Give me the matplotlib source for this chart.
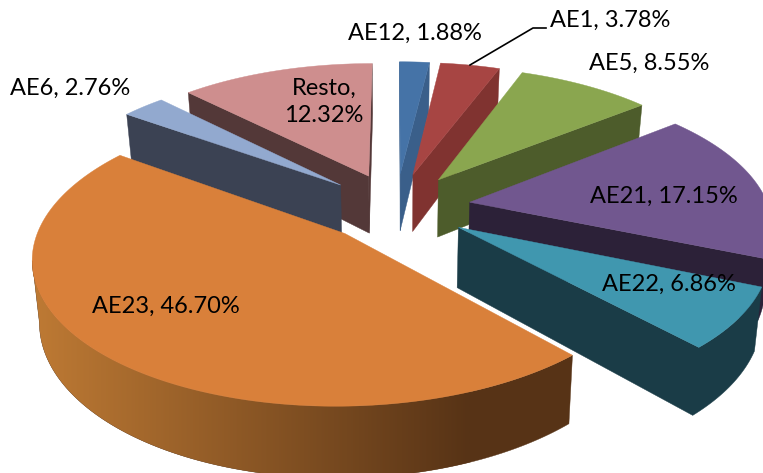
# -*- coding: utf-8 -*-
"""Camembert 3D eclate, dessine a la main en perspective."""

import numpy as np
from matplotlib import pyplot
from matplotlib.colors import LinearSegmentedColormap
from matplotlib.patches import Polygon

noms = ['AE12', 'AE1', 'AE5', 'AE21', 'AE22', 'AE23', 'AE6', 'Resto']
valeurs = [1.88, 3.78, 8.55, 17.15, 6.86, 46.70, 2.76, 12.32]
couleurs_dessus = ['#4573A7', '#A74543', '#8AA64F', '#71578F',
                   '#4097AF', '#D9803A', '#92A9CF', '#CE8E8E']
couleurs_cote = ['#3A5F8A', '#803330', '#4D5C2B', '#2C2138',
                 '#1A3C47', '#573316', '#3B4253', '#533838']
etiquettes = ['AE12, 1.88%', 'AE1, 3.78%', 'AE5, 8.55%', 'AE21, 17.15%',
              'AE22, 6.86%', 'AE23, 46.70%', 'AE6, 2.76%', 'Resto,\n12.32%']

# parametres de la projection (en pixels de l'image)
cx, cy = 396, 207
ech_x, ech_y = 299, 138
persp = 0.15
eclat = 0.25
epaisseur = 59
fuite = 0.98

pos_etiquettes = [(415, 33), (610, 20), (649, 63), (664, 196),
                  (669, 284), (166, 306), (70, 88), (324, 102)]


def projette(u, v):
    """Plan du camembert vers l'ecran."""
    w = 1 + persp * v
    return cx + ech_x * u / w, cy - ech_y * v / w


def bas(x, y, v):
    """Point correspondant sur la face inferieure."""
    w = 1 + persp * v
    return cx + (x - cx) * fuite, y + epaisseur / w


fig = pyplot.figure(figsize=(7.63, 4.73), dpi=100)
ax = fig.add_axes([0, 0, 1, 1])
ax.axis('off')

ombre = LinearSegmentedColormap.from_list('ombre', ['#BE7A34', '#573316'])

bornes = np.concatenate([[0], np.cumsum(valeurs)]) / np.sum(valeurs) * 2 * np.pi
milieux = (bornes[:-1] + bornes[1:]) / 2
ordre = np.argsort(-np.cos(milieux))

for rang, i in enumerate(ordre):
    du = eclat * np.sin(milieux[i])
    dv = eclat * np.cos(milieux[i])
    n = max(int((bornes[i + 1] - bornes[i]) * 60), 4)
    angles = np.linspace(bornes[i], bornes[i + 1], n)
    u = np.concatenate([[du], du + np.sin(angles)])
    v = np.concatenate([[dv], dv + np.cos(angles)])
    x, y = projette(u, v)
    xb, yb = bas(x, y, v)

    # parois tournees vers le spectateur, regroupees par morceaux continus
    nb = len(x)
    morceaux = []
    courant = []
    for a in range(nb):
        b = (a + 1) % nb
        if x[b] < x[a]:
            if not courant:
                courant = [a]
            courant.append(b)
        elif courant:
            morceaux.append(courant)
            courant = []
    if courant:
        morceaux.append(courant)

    for m in morceaux:
        points = [(x[k], y[k]) for k in m] + [(xb[k], yb[k]) for k in m[::-1]]
        ax.add_patch(Polygon(points, closed=True,
                             facecolor=couleurs_cote[i],
                             edgecolor=couleurs_cote[i], linewidth=0.3,
                             zorder=rang * 2 + 0.5))
        if noms[i] == 'AE23':
            # degrade horizontal, clair a gauche et sombre a droite
            poly = Polygon(points, closed=True, facecolor='none',
                           edgecolor='none', transform=ax.transData)
            ax.add_patch(poly)
            image = ax.imshow(np.linspace(0, 1, 256).reshape(1, -1),
                              extent=(33, 470, 473, 0), cmap=ombre,
                              aspect='auto', zorder=rang * 2 + 1)
            image.set_clip_path(poly)

    ax.add_patch(Polygon(np.column_stack([x, y]), closed=True,
                         facecolor=couleurs_dessus[i],
                         edgecolor=couleurs_dessus[i], linewidth=0.3,
                         zorder=rang * 2 + 2))

ax.set_xlim(0, 763)
ax.set_ylim(473, 0)

# trait de rappel de AE1
ax.plot([470, 533, 546], [65, 28, 28], color='black', linewidth=1.2, zorder=50)

for i in range(len(noms)):
    ax.text(pos_etiquettes[i][0], pos_etiquettes[i][1], etiquettes[i],
            family='Lato', fontsize=17, color='black', ha='center',
            va='center', linespacing=1.4, zorder=51)

fig.savefig('out.png', dpi=100)
pyplot.close()
